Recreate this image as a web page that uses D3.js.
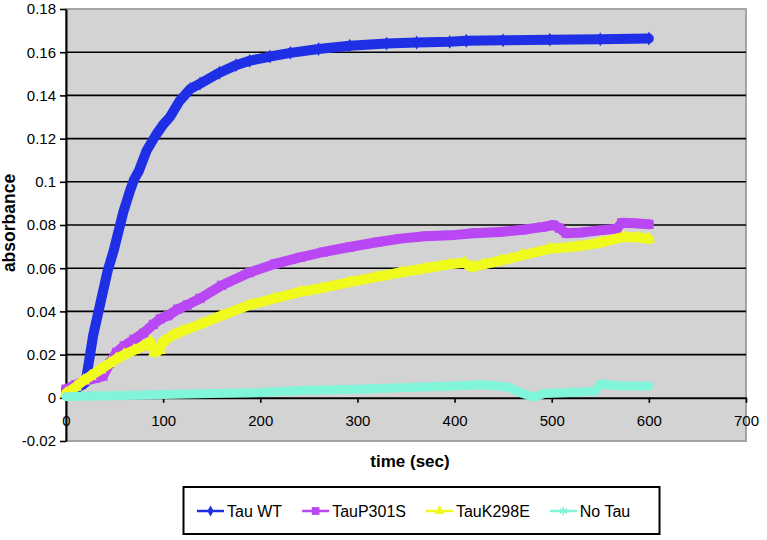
<!DOCTYPE html>
<html>
<head>
<meta charset="utf-8">
<script src="https://cdnjs.cloudflare.com/ajax/libs/d3/7.8.5/d3.min.js"></script>
<style>
	body{margin:0;background:#fff}
	svg text{font-family:'Liberation Sans',Arial,Helvetica,sans-serif}
</style>
</head>
<body>
<div class="chart"></div>
<script>
var seriesNames=['Tau WT','TauP301S','TauK298E','No Tau']

// [time (sec), absorbance]
var tauWT=[[0,0.003],[10,0.004],[20,0.007],[23,0.015],[28,0.029],[33,0.039],[38,0.049],[43,0.059],[49,0.068],[54,0.077],
	[59,0.086],[66,0.096],[70,0.101],[75,0.105],[83,0.1145],[93,0.122],[100,0.1265],[107,0.130],[117,0.1375],[128,0.143],
	[138,0.1455],[158,0.1505],[175,0.154],[189,0.156],[210,0.158],[231,0.1597],[260,0.1615],[292,0.163],[330,0.164],
	[361,0.1645],[395,0.1648],[412,0.1653],[450,0.1655],[498,0.1658],[550,0.166],[600,0.1663]]
var tauP301S=[[0,0.004],[10,0.006],[20,0.008],[30,0.009],[38,0.010],[45,0.016],[52,0.021],[60,0.024],[70,0.027],[80,0.030],
	[90,0.034],[97,0.0365],[105,0.038],[115,0.041],[125,0.043],[138,0.046],[160,0.052],[189,0.058],[215,0.062],[241,0.065],
	[265,0.0675],[292,0.0698],[320,0.072],[344,0.0737],[370,0.0748],[395,0.0752],[420,0.0762],[447,0.0768],[470,0.0778],
	[490,0.079],[502,0.080],[508,0.0785],[515,0.0762],[530,0.0765],[550,0.0775],[567,0.0783],[572,0.081],[585,0.0808],[600,0.0803]]
var tauK298E=[[0,0.002],[10,0.005],[18,0.008],[25,0.010],[35,0.013],[45,0.016],[52,0.018],[60,0.020],[70,0.022],[80,0.024],
	[87,0.026],[91,0.021],[96,0.022],[100,0.026],[110,0.029],[120,0.031],[138,0.034],[160,0.038],[189,0.043],[215,0.046],
	[241,0.049],[265,0.051],[292,0.0536],[320,0.056],[344,0.058],[370,0.060],[395,0.0618],[410,0.0625],[418,0.0605],
	[430,0.0618],[447,0.0635],[470,0.066],[498,0.069],[525,0.070],[550,0.0718],[574,0.0745],[590,0.0742],[600,0.0735]]
var noTau=[[0,0.0005],[25,0.0008],[50,0.001],[100,0.0015],[150,0.002],[200,0.0024],[230,0.0032],[250,0.0035],[300,0.004],
	[350,0.0048],[400,0.0055],[430,0.006],[455,0.005],[470,0.002],[482,0.0003],[492,0.002],[520,0.0025],[545,0.003],
	[550,0.0065],[570,0.0055],[600,0.0055]]

var xTicks=[0,100,200,300,400,500,600,700]
var yTicks=[-0.02,0,0.02,0.04,0.06,0.08,0.1,0.12,0.14,0.16,0.18]
var xLabel='time (sec)', yLabel='absorbance'

var chart={
	dimens:{width:767, height:540},
	box:{left:66, right:746, top:9, bottom:441},
	styles:[
		{color:'#1f2fe6', symbol:d3.symbolDiamond, size:34},
		{color:'#b947f4', symbol:d3.symbolSquare, size:60},
		{color:'#f0fa1c', symbol:d3.symbolTriangle, size:45},
		{color:'#80f5d9', symbol:d3.symbolAsterisk||d3.symbolCross, size:50}
	],
	init:function(){
		chart.logic.draw()
	},
	logic:{
		draw:function(){
			var box=chart.box
			var svg=d3.select('.chart')
				.append('svg')
				.attr('width', chart.dimens.width)
				.attr('height', chart.dimens.height)

			var x=d3.scaleLinear().domain([xTicks[0], xTicks[xTicks.length-1]]).range([box.left, box.right])
			var y=d3.scaleLinear().domain([yTicks[0], yTicks[yTicks.length-1]]).range([box.bottom, box.top])

			svg.append('rect')
				.attr('x', box.left).attr('y', box.top)
				.attr('width', box.right-box.left).attr('height', box.bottom-box.top)
				.attr('fill', '#d3d3d3')
				.attr('stroke', '#a3a3a3')
				.attr('stroke-width', 2)

			// black gridlines, skipping the zero axis and the frame
			svg.append('g').selectAll('line')
				.data(yTicks.filter(function(d){ return d>0 && d<yTicks[yTicks.length-1] }))
				.enter().append('line')
				.attr('x1', box.left).attr('x2', box.right)
				.attr('y1', function(d){ return y(d) }).attr('y2', function(d){ return y(d) })
				.attr('stroke', '#000')
				.attr('stroke-width', 1.6)

			var xAxis=svg.append('g')
				.attr('transform', 'translate(0,'+y(0)+')')
				.call(d3.axisBottom(x).tickValues(xTicks).tickSize(5).tickSizeOuter(0).tickPadding(13))
			var yAxis=svg.append('g')
				.attr('transform', 'translate('+box.left+',0)')
				.call(d3.axisLeft(y).tickValues(yTicks).tickSize(6).tickSizeOuter(0).tickPadding(4)
					.tickFormat(function(d){ return String(+d.toFixed(2)) }))
			;[xAxis, yAxis].forEach(function(ax){
				ax.select('.domain').attr('stroke', '#000').attr('stroke-width', 2)
				ax.selectAll('.tick line').attr('stroke', '#000').attr('stroke-width', 1.6)
				ax.selectAll('.tick text').attr('fill', '#000').attr('font-size', 15)
			})

			svg.append('text')
				.attr('x', (box.left+box.right)/2+4)
				.attr('y', 467)
				.attr('text-anchor', 'middle')
				.attr('font-weight', 'bold')
				.attr('font-size', 17)
				.text(xLabel)
			svg.append('text')
				.attr('transform', 'translate(15,223) rotate(-90)')
				.attr('text-anchor', 'middle')
				.attr('font-weight', 'bold')
				.attr('font-size', 17.5)
				.text(yLabel)

			var line=d3.line()
				.x(function(d){ return x(d[0]) })
				.y(function(d){ return y(d[1]) })
			var allSeries=[tauWT, tauP301S, tauK298E, noTau]

			allSeries.forEach(function(serie, i){
				var st=chart.styles[i]
				var g=svg.append('g').attr('class', 'serie-'+i)
				// markers packed so tight they read as a thick band
				g.append('path')
					.datum(serie)
					.attr('d', line)
					.attr('fill', 'none')
					.attr('stroke', st.color)
					.attr('stroke-width', i==3 ? 9 : 10)
					.attr('stroke-linejoin', 'round')
					.attr('stroke-linecap', 'round')
				g.selectAll('path.mark')
					.data(serie)
					.enter().append('path')
					.attr('class', 'mark')
					.attr('transform', function(d){ return 'translate('+x(d[0])+','+y(d[1])+')' })
					.attr('d', d3.symbol().type(st.symbol).size(st.size))
					.attr('fill', st.color)
					.attr('stroke', st.color)
					.attr('stroke-width', 1.5)
			})

			chart.logic.legend(svg)
		},
		legend:function(svg){
			var lg=svg.append('g').attr('class', 'legend')
			lg.append('rect')
				.attr('x', 183.5).attr('y', 487)
				.attr('width', 476).attr('height', 47)
				.attr('fill', '#fff')
				.attr('stroke', '#000')
				.attr('stroke-width', 2)
			var pos=197, cy=511
			seriesNames.forEach(function(name, i){
				var st=chart.styles[i]
				lg.append('line')
					.attr('x1', pos).attr('x2', pos+27)
					.attr('y1', cy).attr('y2', cy)
					.attr('stroke', st.color)
					.attr('stroke-width', 2.5)
				lg.append('path')
					.attr('transform', 'translate('+(pos+13.5)+','+cy+')')
					.attr('d', d3.symbol().type(st.symbol).size(st.size))
					.attr('fill', st.color)
					.attr('stroke', st.color)
					.attr('stroke-width', i==3 ? 1.5 : 0)
				var t=lg.append('text')
					.attr('x', pos+30)
					.attr('y', cy+6)
					.attr('font-size', 16)
					.attr('fill', '#000')
					.text(name)
				pos+=30+t.node().getComputedTextLength()+20
			})
		}
	}
}
chart.init()
</script>
</body>
</html>
